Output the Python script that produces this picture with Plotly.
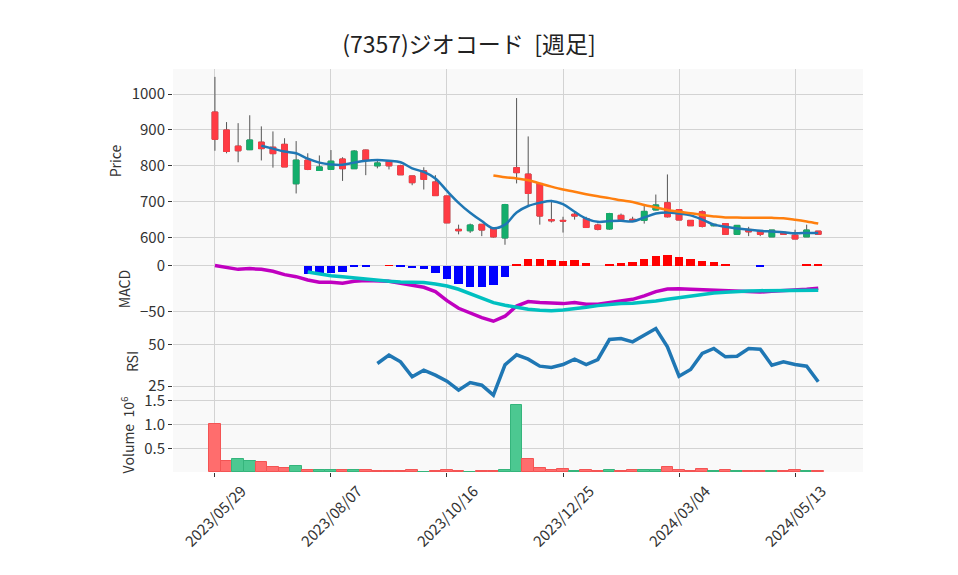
import numpy as np
import pandas as pd
import plotly.graph_objects as go
from plotly.subplots import make_subplots

TITLE = "(7357)ジオコード  [週足]"
DATES = pd.date_range("2023-05-29", periods=53, freq="7D")
TICK_LABELS = ["2023/05/29", "2023/08/07", "2023/10/16", "2023/12/25", "2024/03/04", "2024/05/13"]

OPEN = [950, 900, 855, 845, 866, 852, 860, 750, 816, 787, 790, 819, 792, 844, 800, 812, 800, 772, 786, 755,
        716, 623, 619, 637, 625, 599, 795, 777, 751, 650, 648, 665, 653, 635, 624, 662, 651, 648, 677, 697,
        678, 648, 672, 633, 639, 609, 623, 619, 602, 615, 607, 602, 618]
HIGH = [1048, 922, 919, 941, 910, 896, 877, 869, 835, 829, 844, 824, 844, 845, 816, 816, 803, 772, 796, 774,
        716, 636, 639, 637, 625, 694, 989, 882, 752, 705, 658, 670, 658, 639, 669, 667, 658, 688, 720, 776,
        678, 648, 676, 637, 639, 634, 630, 619, 621, 615, 622, 636, 618]
LOW = [842, 835, 810, 844, 815, 795, 797, 723, 788, 786, 789, 758, 792, 774, 793, 790, 775, 746, 734, 717,
       641, 609, 613, 604, 600, 580, 751, 688, 636, 642, 614, 650, 628, 620, 622, 648, 645, 639, 676, 656,
       649, 633, 628, 631, 608, 609, 604, 604, 602, 609, 596, 602, 609]
CLOSE = [874, 840, 842, 872, 848, 834, 797, 816, 790, 797, 813, 792, 841, 816, 808, 800, 775, 753, 762, 717,
         641, 619, 635, 621, 602, 692, 781, 723, 660, 647, 646, 660, 628, 623, 667, 650, 647, 673, 691, 658,
         649, 633, 631, 637, 609, 634, 616, 609, 621, 609, 596, 621, 609]

MA5 = [None] * 4 + [856, 848, 840, 835, 820, 809, 804, 803, 809, 814, 816, 814, 810, 793, 783, 765,
                    730, 697, 669, 646, 626, 636, 670, 688, 697, 702, 693, 672, 653, 644, 646, 647,
                    645, 656, 667, 670, 667, 662, 650, 636, 630, 625, 622, 619, 617, 615, 612, 613, 613]
MA25 = [None] * 24 + [773, 768, 765, 760, 751, 742, 734, 728, 721, 715, 710, 704, 699, 691, 684, 677,
                      672, 668, 663, 659, 656, 656, 655, 655, 655, 654, 650, 645, 639]

MACD = [0.5, -1.5, -3.7, -2.9, -3.7, -5.8, -9.5, -11.7, -15.3, -17.9, -17.9, -19.0, -16.8, -16.0, -16.0,
        -16.8, -19.0, -21.5, -23.3, -28.1, -38.0, -46.3, -51.8, -56.5, -60.5, -55.0, -43.8, -39.0, -40.1,
        -40.9, -41.2, -40.1, -41.9, -41.9, -39.8, -38.3, -36.5, -32.8, -28.1, -25.2, -24.8, -25.5, -25.9,
        -26.3, -27.0, -27.4, -28.1, -28.5, -27.7, -27.0, -27.0, -25.5, -24.4]
SIGNAL = [None] * 8 + [-6.6, -8.8, -10.6, -11.7, -13.1, -14.6, -15.7, -16.8, -17.5, -17.9, -18.2, -19.7,
                       -21.9, -25.5, -30.6, -35.4, -40.1, -43.0, -45.4, -47.4, -48.5, -48.9, -48.1, -47.0,
                       -45.2, -43.4, -41.9, -41.2, -40.9, -39.8, -38.3, -36.5, -34.6, -32.8, -31.4, -29.5,
                       -28.8, -27.7, -27.4, -27.0, -27.0, -27.0, -27.0, -27.0, -26.6]
HIST = [None] * 8 + [-9.1, -8.0, -7.3, -6.2, -1.5, -0.7, 0.0, 0.4, -1.2, -2.6, -3.6, -7.3, -14.6, -20.0,
                     -22.6, -22.6, -21.2, -12.6, 1.5, 7.7, 7.7, 6.6, 5.5, 6.6, 3.3, 0.0, 2.2, 3.3, 4.4, 7.7,
                     10.9, 12.0, 9.8, 7.7, 5.5, 4.4, 1.1, 0.0, 0.0, -0.5, 0.0, 0.0, 0.0, 2.2, 2.2]
RSI = [None] * 14 + [38.5, 43.5, 39.5, 30.5, 34.5, 31.5, 27.9, 22.5, 27.1, 25.5, 19.5, 37.7, 43.7, 41.1,
                     36.9, 36.1, 37.9, 41.1, 37.9, 40.9, 52.9, 53.5, 51.5, 55.5, 59.5, 48.5, 30.9, 34.9,
                     44.5, 47.5, 42.5, 42.9, 47.5, 47.1, 37.5, 39.5, 37.9, 36.9, 27.5]
VOLUME_M = [1.005, 0.227, 0.27, 0.227, 0.206, 0.114, 0.093, 0.135, 0.05, 0.036, 0.036, 0.036, 0.036, 0.05,
            0.03, 0.015, 0.015, 0.036, 0.008, 0.015, 0.05, 0.015, 0.01, 0.03, 0.015, 0.05, 1.41, 0.28, 0.09,
            0.05, 0.07, 0.015, 0.036, 0.015, 0.036, 0.015, 0.036, 0.036, 0.036, 0.1, 0.036, 0.015, 0.057,
            0.015, 0.036, 0.015, 0.015, 0.015, 0.015, 0.015, 0.036, 0.015, 0.015]

FONT = "Noto Sans CJK JP"
INC, DEC = "#14ae6c", "#ff3b44"
WEEK_MS = 7 * 24 * 3600 * 1000

o, c = np.array(OPEN, float), np.array(CLOSE, float)
body_hi, body_lo = np.maximum(o, c), np.minimum(o, c)
vol_up = [i > 0 and CLOSE[i] >= CLOSE[i - 1] for i in range(len(CLOSE))]
vol_fill = ["#4cc891" if u else "#ff6d6d" for u in vol_up]
vol_edge = ["#35b57c" if u else "#f45454" for u in vol_up]
hist_col = ["#ff0000" if (h is not None and h >= 0) else "#0000ff" for h in HIST]

fig = make_subplots(rows=4, cols=1, shared_xaxes=True, vertical_spacing=0.0)

# wicks
fig.add_trace(go.Candlestick(x=DATES, open=OPEN, high=HIGH, low=LOW, close=CLOSE,
                             increasing=dict(line=dict(color="#555555", width=1), fillcolor="#555555"),
                             decreasing=dict(line=dict(color="#555555", width=1), fillcolor="#555555"),
                             whiskerwidth=0, hoverinfo="skip"), row=1, col=1)
# bodies
fig.add_trace(go.Candlestick(x=DATES, open=OPEN, high=body_hi, low=body_lo, close=CLOSE,
                             increasing=dict(line=dict(color=INC, width=1), fillcolor=INC),
                             decreasing=dict(line=dict(color=DEC, width=1), fillcolor=DEC),
                             whiskerwidth=0), row=1, col=1)
fig.add_trace(go.Scatter(x=DATES, y=MA5, mode="lines", line=dict(color="#1f77b4", width=2.5, shape="spline")),
              row=1, col=1)
fig.add_trace(go.Scatter(x=DATES, y=MA25, mode="lines", line=dict(color="#ff7f0e", width=2.5, shape="spline")),
              row=1, col=1)

fig.add_trace(go.Bar(x=DATES, y=HIST, marker=dict(color=hist_col, line=dict(width=0)), width=0.72 * WEEK_MS),
              row=2, col=1)
fig.add_trace(go.Scatter(x=DATES, y=MACD, mode="lines", line=dict(color="#c000c0", width=3.5)), row=2, col=1)
fig.add_trace(go.Scatter(x=DATES, y=SIGNAL, mode="lines", line=dict(color="#00c0c0", width=3.5)), row=2, col=1)

fig.add_trace(go.Scatter(x=DATES, y=RSI, mode="lines", line=dict(color="#1f77b4", width=3.5)), row=3, col=1)

fig.add_trace(go.Bar(x=DATES, y=VOLUME_M, marker=dict(color=vol_fill, line=dict(color=vol_edge, width=1)),
                     width=WEEK_MS), row=4, col=1)

# page offset of the browser (body margin) is ~8px; plot area wanted at x 173..863, y 69..472
OFF = 8
L, R, T, B = 173 - OFF, 958 - 863 + OFF, 69 - OFF, 575 - 472 + OFF
H_PLOT = 575 - T - B


def dom(top_px, bot_px):
    return [(472 - bot_px) / H_PLOT, (472 - top_px) / H_PLOT]


grid = "#d3d3d3"
yax_common = dict(gridcolor=grid, gridwidth=1, zeroline=False, ticks="outside", ticklen=4,
                  tickcolor="#333", tickfont=dict(size=15, color="#333", family=FONT),
                  showline=False)
ttl_font = dict(size=14, color="#333", family=FONT)
tick_dates = pd.to_datetime(TICK_LABELS, format="%Y/%m/%d")
xax_common = dict(gridcolor=grid, gridwidth=1, zeroline=False, showline=False,
                  tickvals=tick_dates, ticktext=TICK_LABELS, showticklabels=False,
                  range=[DATES[0] - pd.Timedelta(days=25.3), DATES[0] + pd.Timedelta(days=391)],
                  rangeslider=dict(visible=False))

fig.update_layout(
    width=958, height=575,
    margin=dict(l=L, r=R, t=T, b=B),
    paper_bgcolor="white", plot_bgcolor="#f9f9f9",
    showlegend=False, bargap=0,
    font=dict(family=FONT, color="#333"),
    title=dict(text=TITLE, x=(469 - OFF) / 958, xanchor="center", xref="container",
               y=1 - (45 - OFF) / 575, yanchor="middle", yref="container",
               font=dict(size=23, color="#222", family=FONT)),
    yaxis=dict(domain=dom(69, 253), range=[557, 1070], tickvals=[600, 700, 800, 900, 1000],
               title=dict(text="Price", font=ttl_font, standoff=6), **yax_common),
    yaxis2=dict(domain=dom(253, 325), range=[-64.6, 14.2], tickvals=[-50, 0],
                title=dict(text="MACD", font=ttl_font, standoff=6), **yax_common),
    yaxis3=dict(domain=dom(325, 398), range=[17.8, 61.6], tickvals=[25, 50],
                title=dict(text="RSI", font=ttl_font, standoff=6), **yax_common),
    yaxis4=dict(domain=dom(398, 472), range=[0, 1.56], tickvals=[0.5, 1.0, 1.5], tickformat=".1f",
                title=dict(text="Volume  10<sup>6</sup>", font=ttl_font, standoff=6), **yax_common),
)
for k in ["xaxis", "xaxis2", "xaxis3"]:
    fig.layout[k].update(ticks="", **xax_common)
fig.layout["xaxis4"].update(ticks="outside", ticklen=4, tickcolor="#333", **xax_common)

# rotated date labels centred under their ticks
for d, lab in zip(tick_dates, TICK_LABELS):
    fig.add_annotation(x=d, xref="x4", y=-0.015, yref="paper", text=lab, showarrow=False,
                       textangle=-45, xanchor="center", yanchor="top",
                       font=dict(size=15, color="#333", family=FONT))

fig.write_html("out.html")
